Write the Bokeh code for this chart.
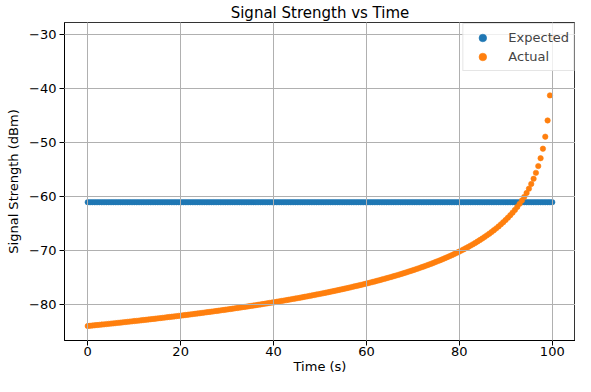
import numpy as np
from bokeh.plotting import figure
from bokeh.models import ColumnDataSource, FixedTicker, CustomJSTickFormatter, Range1d
from bokeh.embed import file_html
from bokeh.resources import INLINE

# ---- data ----
t_start, t_end, n_samples = 0.0, 100.0, 200
time = np.linspace(t_start, t_end, n_samples)

expected_level = -61.1
expected = [expected_level] * n_samples

actual = [
    -84.03, -83.98, -83.94, -83.89, -83.85, -83.81, -83.76, -83.72, -83.67, -83.63,
    -83.58, -83.54, -83.49, -83.44, -83.40, -83.35, -83.30, -83.26, -83.21, -83.16,
    -83.11, -83.07, -83.02, -82.97, -82.92, -82.87, -82.82, -82.77, -82.72, -82.67,
    -82.62, -82.57, -82.52, -82.47, -82.41, -82.36, -82.31, -82.26, -82.20, -82.15,
    -82.10, -82.04, -81.99, -81.93, -81.88, -81.82, -81.77, -81.71, -81.66, -81.60,
    -81.54, -81.48, -81.42, -81.37, -81.31, -81.25, -81.19, -81.13, -81.07, -81.01,
    -80.95, -80.89, -80.82, -80.76, -80.70, -80.63, -80.57, -80.50, -80.44, -80.37,
    -80.30, -80.24, -80.17, -80.10, -80.03, -79.96, -79.89, -79.82, -79.75, -79.68,
    -79.61, -79.54, -79.46, -79.39, -79.32, -79.24, -79.17, -79.09, -79.01, -78.94,
    -78.86, -78.78, -78.70, -78.62, -78.54, -78.45, -78.37, -78.29, -78.20, -78.12,
    -78.03, -77.94, -77.86, -77.77, -77.68, -77.59, -77.50, -77.40, -77.31, -77.21,
    -77.12, -77.02, -76.92, -76.82, -76.72, -76.62, -76.52, -76.42, -76.31, -76.21,
    -76.10, -75.99, -75.88, -75.77, -75.65, -75.54, -75.42, -75.30, -75.18, -75.06,
    -74.94, -74.81, -74.69, -74.56, -74.43, -74.29, -74.16, -74.02, -73.88, -73.74,
    -73.60, -73.45, -73.30, -73.15, -73.00, -72.84, -72.68, -72.52, -72.35, -72.18,
    -72.01, -71.84, -71.66, -71.47, -71.28, -71.09, -70.90, -70.70, -70.49, -70.28,
    -70.06, -69.84, -69.62, -69.38, -69.14, -68.90, -68.64, -68.38, -68.11, -67.83,
    -67.54, -67.24, -66.94, -66.62, -66.28, -65.94, -65.58, -65.20, -64.81, -64.40,
    -63.96, -63.51, -63.03, -62.52, -61.97, -61.40, -60.78, -60.11, -59.39, -58.59,
    -57.72, -56.76, -55.66, -54.41, -52.95, -51.19, -48.97, -45.96, -41.32, -30.50,
]

x_ticks = [0, 20, 40, 60, 80, 100]
y_ticks = [-80, -70, -60, -50, -40, -30]

title_text = "Signal Strength vs Time"
x_label = "Time (s)"
y_label = "Signal Strength (dBm)"
series_names = ["Expected", "Actual"]
series_colors = ["#1f77b4", "#ff7f0e"]

# ---- figure ----
FONT = "DejaVu Sans"
p = figure(
    width=575, height=376,
    output_backend="svg", toolbar_location=None,
    x_range=Range1d(-5, 105), y_range=Range1d(-86.71, -27.82),
    min_border_left=64, min_border_right=0, min_border_top=22, min_border_bottom=30,
)
p.title.text = title_text
p.title.align = "center"
p.title.text_font = FONT
p.title.text_font_size = "15px"
p.title.text_font_style = "normal"
p.title.text_color = "black"
p.title.standoff = 2
p.title.offset = 0

src_e = ColumnDataSource(dict(x=time, y=expected))
src_a = ColumnDataSource(dict(x=time, y=actual))
p.scatter("x", "y", source=src_e, size=5.4, line_width=0.6,
          color=series_colors[0], legend_label=series_names[0])
p.scatter("x", "y", source=src_a, size=5.4, line_width=0.6,
          color=series_colors[1], legend_label=series_names[1])

minus_fmt = CustomJSTickFormatter(code="return (tick < 0 ? '\\u2212' : '') + Math.abs(tick).toString();")

for ax, ticks in ((p.xaxis[0], x_ticks), (p.yaxis[0], y_ticks)):
    ax.ticker = FixedTicker(ticks=ticks)
    ax.formatter = minus_fmt
    ax.major_label_text_font = FONT
    ax.major_label_text_font_size = "13px"
    ax.major_label_text_color = "black"
    ax.axis_label_text_font = FONT
    ax.axis_label_text_font_size = "13px"
    ax.axis_label_text_font_style = "normal"
    ax.axis_label_text_color = "black"
    ax.major_tick_out = 5
    ax.major_tick_in = 0
    ax.major_tick_line_color = "black"
    ax.minor_tick_line_color = None
    ax.axis_line_color = "black"
    ax.major_label_standoff = 1
    ax.axis_label_standoff = 0

p.yaxis.major_label_standoff = 3
p.yaxis.axis_label_standoff = 5

p.xaxis.axis_label = x_label
p.yaxis.axis_label = y_label

p.outline_line_color = "black"
p.outline_line_width = 1
p.outline_line_alpha = 0.8

for g in (p.xgrid[0], p.ygrid[0]):
    g.grid_line_color = "#b0b0b0"
    g.grid_line_width = 1
    g.level = "guide"

lg = p.legend[0]
lg.location = "top_right"
lg.margin = 1
lg.padding = 4
lg.spacing = 0
lg.glyph_width = 30
lg.glyph_height = 19
lg.label_height = 19
lg.label_standoff = 11
lg.label_text_font = FONT
lg.label_text_font_size = "13px"
lg.border_line_color = "#cccccc"
lg.background_fill_alpha = 0.8

open("out.html", "w", encoding="utf-8").write(file_html(p, INLINE))
